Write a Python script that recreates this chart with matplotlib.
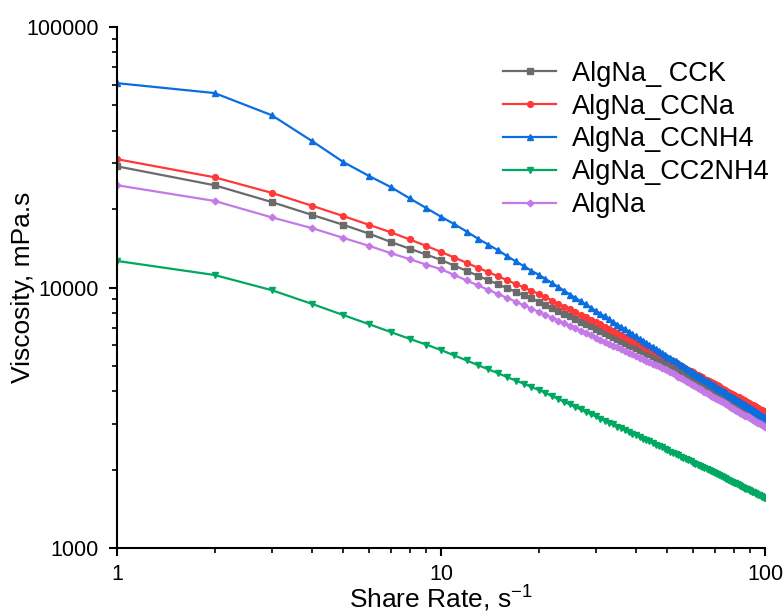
import matplotlib
matplotlib.use("Agg")
import matplotlib.pyplot as plt
from matplotlib.ticker import LogLocator, FixedLocator, FixedFormatter, NullFormatter

plt.rcParams['font.family'] = ['Liberation Sans', 'DejaVu Sans']
plt.rcParams['mathtext.default'] = 'regular'

# shear rate, 1/s
shear_rate = list(range(1, 101))

# viscosity, mPa.s
visc_cck = [
    29200, 24700, 21300, 19000, 17400, 16100, 14960, 14100, 13390, 12760,
    12130, 11590, 11090, 10670, 10280, 9950, 9640, 9330, 9080, 8830,
    8590, 8356, 8128, 7925, 7745, 7551, 7396, 7228, 7096, 6950,
    6808, 6683, 6561, 6457, 6339, 6237, 6138, 6039, 5943, 5861,
    5768, 5689, 5610, 5534, 5458, 5383, 5321, 5260, 5188, 5129,
    5047, 4989, 4920, 4853, 4786, 4721, 4656, 4603, 4539, 4487,
    4436, 4385, 4335, 4285, 4236, 4188, 4140, 4093, 4055, 4009,
    3972, 3936, 3890, 3855, 3811, 3776, 3741, 3707, 3673, 3639,
    3606, 3573, 3540, 3516, 3483, 3451, 3420, 3396, 3365, 3342,
    3311, 3281, 3258, 3236, 3206, 3184, 3162, 3141, 3112, 3090,
]
visc_ccna = [
    31100, 26500, 23100, 20600, 18800, 17400, 16300, 15300, 14450, 13700,
    13030, 12440, 11910, 11455, 11040, 10665, 10325, 10020, 9727, 9462,
    9183, 8913, 8670, 8453, 8241, 8035, 7852, 7674, 7516, 7345,
    7211, 7063, 6918, 6808, 6683, 6561, 6457, 6339, 6237, 6152,
    6053, 5957, 5875, 5794, 5715, 5636, 5559, 5483, 5420, 5346,
    5272, 5200, 5140, 5070, 5012, 4950, 4887, 4831, 4775, 4721,
    4667, 4613, 4571, 4519, 4467, 4416, 4375, 4325, 4285, 4246,
    4207, 4169, 4130, 4093, 4055, 4018, 3981, 3945, 3908, 3881,
    3846, 3811, 3784, 3750, 3724, 3690, 3656, 3631, 3606, 3581,
    3548, 3524, 3499, 3475, 3443, 3420, 3396, 3373, 3350, 3327,
]
visc_ccnh4 = [
    60900, 55800, 45900, 36500, 30300, 26800, 24300, 22000, 20200, 18700,
    17500, 16400, 15400, 14600, 13900, 13200, 12600, 12100, 11600, 11200,
    10800, 10400, 10050, 9730, 9400, 9120, 8850, 8610, 8375, 8150,
    7940, 7745, 7550, 7380, 7210, 7050, 6900, 6745, 6620, 6490,
    6350, 6240, 6120, 6030, 5920, 5810, 5715, 5610, 5520, 5430,
    5350, 5270, 5200, 5120, 5050, 4980, 4910, 4840, 4775, 4710,
    4660, 4590, 4540, 4480, 4425, 4375, 4325, 4265, 4225, 4180,
    4130, 4090, 4045, 4000, 3960, 3920, 3880, 3840, 3800, 3765,
    3730, 3690, 3655, 3620, 3590, 3565, 3525, 3500, 3465, 3435,
    3405, 3375, 3350, 3320, 3290, 3265, 3235, 3215, 3185, 3160,
]
visc_cc2nh4 = [
    12650, 11170, 9772, 8650, 7834, 7228, 6745, 6353, 6039, 5754,
    5483, 5248, 5035, 4853, 4688, 4529, 4395, 4276, 4150, 4046,
    3936, 3828, 3733, 3639, 3556, 3475, 3404, 3327, 3266, 3199,
    3141, 3083, 3027, 2979, 2924, 2877, 2831, 2786, 2748, 2704,
    2667, 2630, 2594, 2564, 2529, 2495, 2466, 2438, 2404, 2377,
    2344, 2323, 2296, 2270, 2244, 2218, 2193, 2173, 2148, 2123,
    2104, 2084, 2061, 2042, 2023, 2004, 1986, 1968, 1950, 1932,
    1919, 1901, 1884, 1866, 1854, 1837, 1824, 1807, 1795, 1782,
    1770, 1754, 1742, 1730, 1718, 1706, 1690, 1679, 1667, 1656,
    1644, 1633, 1626, 1611, 1600, 1592, 1581, 1570, 1560, 1552,
]
visc_algna = [
    24700, 21500, 18600, 16900, 15500, 14450, 13550, 12850, 12250, 11750,
    11170, 10640, 10190, 9795, 9441, 9120, 8831, 8551, 8299, 8072,
    7852, 7656, 7464, 7278, 7112, 6966, 6823, 6683, 6546, 6427,
    6310, 6194, 6081, 5984, 5888, 5794, 5702, 5610, 5534, 5458,
    5383, 5309, 5236, 5176, 5105, 5047, 4977, 4920, 4864, 4808,
    4742, 4677, 4613, 4550, 4487, 4436, 4375, 4325, 4266, 4217,
    4169, 4121, 4074, 4027, 3981, 3936, 3890, 3846, 3811, 3776,
    3733, 3698, 3664, 3622, 3589, 3556, 3524, 3491, 3451, 3428,
    3396, 3365, 3334, 3311, 3281, 3251, 3221, 3199, 3177, 3148,
    3119, 3097, 3076, 3048, 3027, 3006, 2979, 2958, 2938, 2917,
]

series = [
    ("AlgNa_ CCK", visc_cck, "#6b6b6b", "s"),
    ("AlgNa_CCNa", visc_ccna, "#ff3838", "o"),
    ("AlgNa_CCNH4", visc_ccnh4, "#0a6ee0", "^"),
    ("AlgNa_CC2NH4", visc_cc2nh4, "#00a862", "v"),
    ("AlgNa", visc_algna, "#c47ae6", "D"),
]

fig = plt.figure(figsize=(7.83, 6.15), dpi=100)
ax = fig.add_axes([0.1494, 0.109, 0.8276, 0.847])

for label, vals, color, marker in series:
    ax.plot(shear_rate, vals, color=color, marker=marker, markersize=4.2 if marker != "D" else 3.4,
            linewidth=1.6, label=label)

ax.set_xscale("log")
ax.set_yscale("log")
ax.set_xlim(1, 100)
ax.set_ylim(1000, 100000)

ax.xaxis.set_major_locator(FixedLocator([1, 10, 100]))
ax.xaxis.set_major_formatter(FixedFormatter(["1", "10", "100"]))
ax.yaxis.set_major_locator(FixedLocator([1000, 10000, 100000]))
ax.yaxis.set_major_formatter(FixedFormatter(["1000", "10000", "100000"]))
ax.xaxis.set_minor_locator(LogLocator(base=10, subs=range(2, 10)))
ax.yaxis.set_minor_locator(LogLocator(base=10, subs=range(2, 10)))
ax.xaxis.set_minor_formatter(NullFormatter())
ax.yaxis.set_minor_formatter(NullFormatter())

for side in ("top", "right"):
    ax.spines[side].set_visible(False)
for side in ("left", "bottom"):
    ax.spines[side].set_linewidth(1.5)

ax.tick_params(which="major", direction="out", length=6, width=1.5, labelsize=15.5)
ax.tick_params(which="minor", direction="out", length=3.5, width=1.2)
ax.tick_params(axis="x", which="major", pad=5.5)
ax.tick_params(axis="y", which="major", pad=7)

ax.set_xlabel("Share Rate, s$^{-1}$", fontsize=19, labelpad=-1)
ax.set_ylabel("Viscosity, mPa.s", fontsize=19, labelpad=-6)

ax.legend(loc="upper left", bbox_to_anchor=(0.596, 0.935), frameon=False, fontsize=19.5,
          handlelength=1.95, handletextpad=0.6, labelspacing=0.25, borderaxespad=0,
          borderpad=0)

fig.savefig("out.png", dpi=100)
